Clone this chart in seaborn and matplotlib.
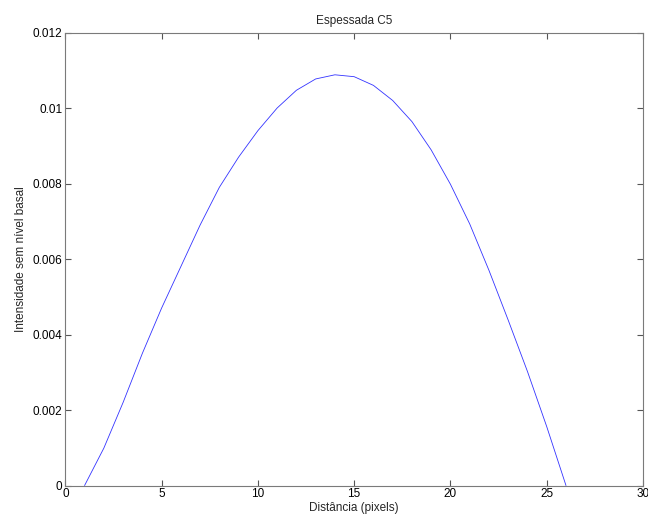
import matplotlib
matplotlib.use("Agg")
import matplotlib.pyplot as plt
import seaborn as sns
import pandas as pd

distance = list(range(1, 27))
intensity = [0.0, 0.00099, 0.0022, 0.0035, 0.0047, 0.0058, 0.0069, 0.0079,
             0.0087, 0.0094, 0.0100, 0.01047, 0.01077, 0.01088, 0.01083,
             0.0106, 0.0102, 0.00964, 0.00889, 0.00798, 0.00693, 0.0057,
             0.00438, 0.00302, 0.00156, 0.0]
x_ticks = [0, 5, 10, 15, 20, 25, 30]
y_ticks = [0, 0.002, 0.004, 0.006, 0.008, 0.01, 0.012]
y_labels = ["0", "0.002", "0.004", "0.006", "0.008", "0.01", "0.012"]

sns.set_theme(style="white")
plt.rcParams['font.family'] = ['Liberation Sans', 'DejaVu Sans']

df = pd.DataFrame({"x": distance, "y": intensity})
fig = plt.figure(figsize=(6.48, 5.22), dpi=100)
ax = fig.add_axes([0.1008, 0.0699, 0.8915, 0.8678])
sns.lineplot(data=df, x="x", y="y", ax=ax, color="#3333ff", linewidth=0.6)

ax.set_xlim(0, 30)
ax.set_ylim(0, 0.012)
ax.set_xticks(x_ticks)
ax.set_xticklabels([str(t) for t in x_ticks])
ax.set_yticks(y_ticks)
ax.set_yticklabels(y_labels)
ax.tick_params(direction="in", length=4, width=0.8, color="#555555",
               top=True, right=True, bottom=True, left=True,
               labelsize=8.5, pad=2, labelcolor="black")
for s in ax.spines.values():
    s.set_color("#7a7a7a")
    s.set_linewidth(0.8)
ax.set_title("Espessada C5", fontsize=8.5, pad=6)
ax.set_xlabel("Distância (pixels)", fontsize=8.5, labelpad=1)
ax.set_ylabel("Intensidade sem nível basal", fontsize=8.5, labelpad=4)
fig.savefig("out.png", dpi=100)
